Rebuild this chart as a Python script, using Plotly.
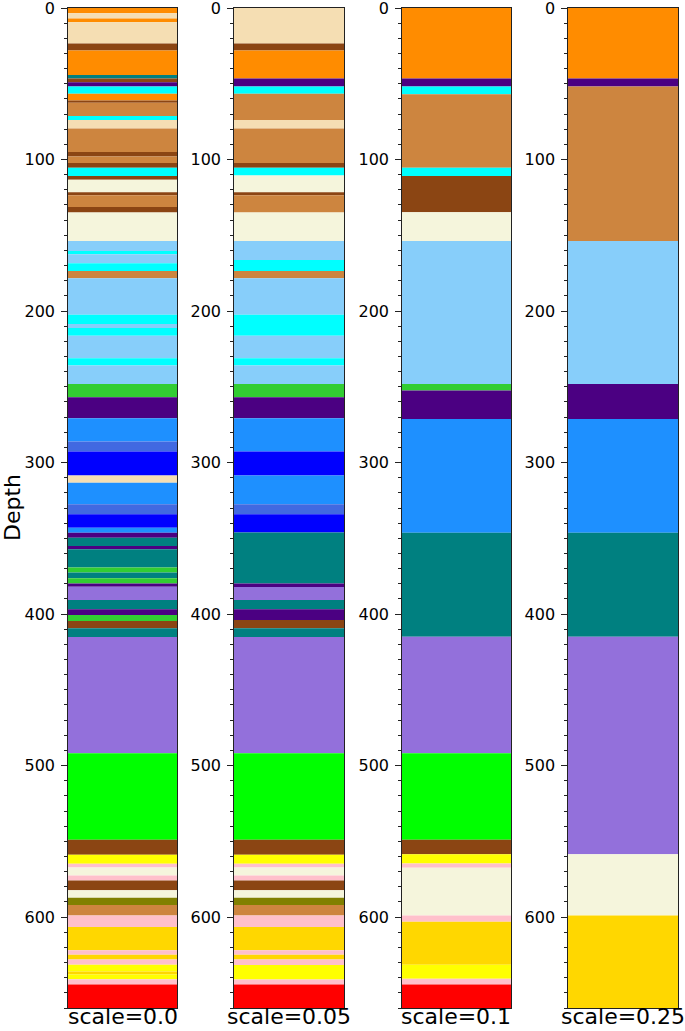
import plotly.graph_objects as go

# depth of the bottom of every column
DEPTH_MAX = 660

scale_labels = ["scale=0.0", "scale=0.05", "scale=0.1", "scale=0.25"]
tick_vals = [0, 100, 200, 300, 400, 500, 600]

# layer tops (depth) and colours, one pair of lists per column
tops_00 = [0, 3.5, 7, 9.4, 23.5, 28, 44.3, 46.5, 49, 51.8, 56.6, 61, 62.6, 71.3, 74, 79.5,
           95, 98, 102.3, 105.4, 110.9, 113.3, 121.6, 123.6, 131.3, 135, 153.7, 160.3,
           162.5, 168.4, 173.5, 178.3, 202.4, 208.6, 211.2, 216.3, 231.2, 236, 248.1,
           256.9, 270.7, 286.1, 292.7, 308.5, 313.3, 327.6, 334.2, 343, 346.3, 349.6,
           355.1, 357.3, 369.3, 372.6, 376.4, 379.9, 381.9, 390.8, 396.8, 400.7, 404.5,
           409.3, 415.2, 491.8, 549, 558.8, 564.8, 567.2, 572.5, 575.8, 582.3, 587.2,
           592, 599, 606.5, 621.9, 624.9, 628, 631.5, 635.9, 637.9, 641, 644.5]
colors_00 = ["darkorange", "wheat", "darkorange", "wheat", "saddlebrown", "darkorange",
             "teal", "saddlebrown", "indigo", "cyan", "darkorange", "saddlebrown", "peru",
             "cyan", "wheat", "peru", "saddlebrown", "peru", "saddlebrown", "cyan",
             "saddlebrown", "beige", "saddlebrown", "peru", "saddlebrown", "beige",
             "lightskyblue", "cyan", "lightskyblue", "cyan", "peru", "lightskyblue", "cyan",
             "lightskyblue", "cyan", "lightskyblue", "cyan", "lightskyblue", "limegreen",
             "indigo", "dodgerblue", "royalblue", "blue", "wheat", "dodgerblue",
             "royalblue", "blue", "dodgerblue", "indigo", "teal", "indigo", "teal",
             "limegreen", "teal", "limegreen", "indigo", "mediumpurple", "teal", "indigo",
             "limegreen", "saddlebrown", "teal", "mediumpurple", "lime", "saddlebrown",
             "yellow", "pink", "beige", "pink", "saddlebrown", "beige", "olive", "peru",
             "pink", "gold", "pink", "gold", "pink", "yellow", "gold", "yellow", "pink", "red"]

tops_05 = [0, 23.5, 28.1, 46.5, 51.8, 56.6, 74, 79.5, 102.3, 105.4, 110.6, 121.6, 123.6,
           135, 153.7, 166.4, 173.5, 178.3, 202.4, 216.3, 231.2, 236, 248.1, 256.9, 270.7,
           292.7, 308.5, 327.6, 334.2, 346.1, 379.9, 382.1, 390.8, 396.8, 404, 409.3,
           415.2, 491.8, 549, 558.8, 564.8, 567.2, 572.5, 575.8, 582.3, 587.2, 592, 599,
           606.5, 621.9, 624.9, 628, 631.7, 641.2, 644.5]
colors_05 = ["wheat", "saddlebrown", "darkorange", "indigo", "cyan", "peru", "wheat", "peru",
             "saddlebrown", "cyan", "beige", "saddlebrown", "peru", "beige", "lightskyblue",
             "cyan", "peru", "lightskyblue", "cyan", "lightskyblue", "cyan", "lightskyblue",
             "limegreen", "indigo", "dodgerblue", "blue", "dodgerblue", "royalblue", "blue",
             "teal", "indigo", "mediumpurple", "teal", "indigo", "saddlebrown", "teal",
             "mediumpurple", "lime", "saddlebrown", "yellow", "pink", "beige", "pink",
             "saddlebrown", "beige", "olive", "peru", "pink", "gold", "pink", "gold", "pink",
             "yellow", "pink", "red"]

tops_10 = [0, 46.5, 51.8, 56.9, 105.4, 110.9, 134.8, 153.7, 248.1, 252.5, 271.2, 346.3,
           415, 491.8, 549, 558.6, 564.6, 567.4, 599, 603, 631.5, 640.7, 644.5]
colors_10 = ["darkorange", "indigo", "cyan", "peru", "cyan", "saddlebrown", "beige",
             "lightskyblue", "limegreen", "indigo", "dodgerblue", "teal", "mediumpurple",
             "lime", "saddlebrown", "yellow", "pink", "beige", "pink", "gold", "yellow",
             "pink", "red"]

tops_25 = [0, 46.5, 51.8, 153.7, 248.1, 271.2, 346.3, 415, 558.6, 599]
colors_25 = ["darkorange", "indigo", "peru", "lightskyblue", "indigo", "dodgerblue",
             "teal", "mediumpurple", "beige", "gold"]

panels = [(tops_00, colors_00), (tops_05, colors_05), (tops_10, colors_10), (tops_25, colors_25)]

# plot area is 610 px wide, columns about 109 px with 57 px gaps
domains = [(0.0, 0.1787), (0.2721, 0.4525), (0.5475, 0.7262), (0.8197, 1.0)]

fig = go.Figure()
layout_axes = {}
for i, (tops, colors) in enumerate(panels):
    bottoms = tops[1:] + [DEPTH_MAX]
    thickness = [b - t for t, b in zip(tops, bottoms)]
    suffix = "" if i == 0 else str(i + 1)
    fig.add_trace(go.Bar(
        x=[0] * len(tops),
        y=thickness,
        base=tops,
        width=1,
        marker=dict(color=colors, line=dict(width=0)),
        xaxis="x" + suffix,
        yaxis="y" + suffix,
        showlegend=False,
        hovertemplate="top=%{base}<extra></extra>",
    ))
    layout_axes["xaxis" + suffix] = dict(
        domain=list(domains[i]), range=[-0.5, 0.5], anchor="y" + suffix,
        showticklabels=False, ticks="", showgrid=False, zeroline=False,
        showline=True, mirror=True, linecolor="#222", linewidth=1.3, automargin=False,
    )
    layout_axes["yaxis" + suffix] = dict(
        range=[DEPTH_MAX, 0], anchor="x" + suffix, tickmode="array", tickvals=tick_vals,
        ticks="outside", ticklen=5.6, tickwidth=1.2, tickcolor="#222",
        minor=dict(dtick=10, ticks="outside", ticklen=3.2, tickwidth=1, tickcolor="#222"),
        showgrid=False, zeroline=False, showline=True, mirror=True,
        linecolor="#222", linewidth=1.3, tickfont=dict(size=16, color="black"),
        ticklabelstandoff=3, ticklabeloverflow="allow", automargin=False,
    )

annotations = []
for i, label in enumerate(scale_labels):
    annotations.append(dict(
        text=label, x=(domains[i][0] + domains[i][1]) / 2, y=0, xref="paper", yref="paper",
        xanchor="center", yanchor="bottom", yshift=-23, showarrow=False,
        font=dict(size=22, color="black"),
    ))
annotations.append(dict(
    text="Depth", x=-0.0918, y=0.5, xref="paper", yref="paper", textangle=-90,
    xanchor="center", yanchor="middle", showarrow=False, font=dict(size=22, color="black"),
))

fig.update_layout(
    **layout_axes,
    barmode="overlay",
    width=685,
    height=1031,
    margin=dict(l=68, r=7, t=8, b=23),
    plot_bgcolor="white",
    paper_bgcolor="white",
    font=dict(family="DejaVu Sans", color="black"),
    annotations=annotations,
)

# drop the browser's default body margin so the figure fills the window
fig.write_html("out.html", config={"displayModeBar": False},
               post_script="document.body.style.margin='0px';")
